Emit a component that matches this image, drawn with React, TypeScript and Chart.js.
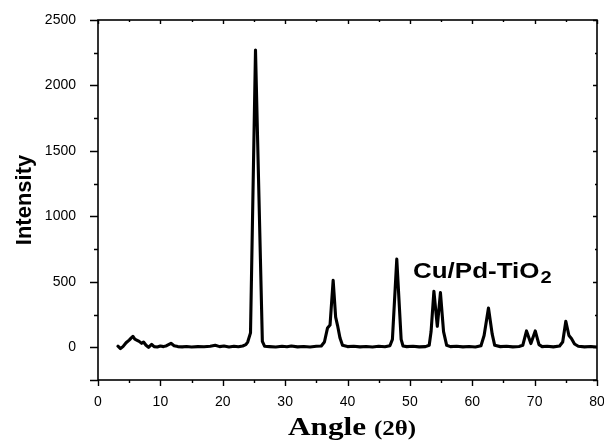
import React, { useEffect, useRef } from 'react';
import { Chart, registerables } from 'chart.js';

Chart.register(...registerables);

// 2θ angles (degrees)
const angles = [
  3.2, 3.6, 4.0, 4.5, 5.0, 5.3, 5.6, 5.9, 6.2, 6.6, 7.0, 7.3, 7.7, 8.1, 8.6, 9.0, 9.5,
  10.0, 10.5, 11.0, 11.7, 12.2, 12.8, 13.5, 14.2, 15.0, 16.0, 17.0, 18.0, 18.8, 19.5,
  20.2, 21.0, 21.8, 22.5, 23.2, 23.7, 24.0, 24.45, 25.25, 26.35, 26.7, 27.5, 28.5,
  29.5, 30.3, 31.0, 32.0, 33.0, 34.0, 35.0, 35.8, 36.3, 36.8, 37.2, 37.7, 38.1, 38.4,
  38.8, 39.2, 40.0, 41.0, 42.0, 43.0, 44.0, 45.0, 46.0, 46.8, 47.2, 47.9, 48.6, 48.9,
  49.5, 50.5, 51.5, 52.5, 53.1, 53.4, 53.85, 54.4, 54.9, 55.4, 55.9, 56.5, 57.5, 58.5,
  59.5, 60.5, 61.4, 61.9, 62.6, 63.2, 63.6, 64.5, 65.5, 66.5, 67.5, 68.1, 68.7, 69.4,
  70.1, 70.7, 71.2, 72.0, 73.0, 74.0, 74.5, 75.0, 75.5, 75.9, 76.4, 77.0, 78.0, 79.0, 80.0,
];

// Intensity (counts)
const intensities = [
  8, -10, 5, 35, 55, 70, 84, 62, 55, 45, 30, 40, 15, 0, 23, 5, 2,
  10, 5, 12, 30, 12, 5, 3, 6, 2, 5, 4, 8, 15, 5,
  10, 2, 8, 4, 10, 20, 40, 110, 2270, 45, 8, 5, 2,
  8, 4, 10, 3, 6, 2, 8, 10, 40, 148, 170, 512, 230, 168,
  70, 15, 5, 8, 3, 6, 2, 8, 4, 12, 60, 673, 60, 10,
  5, 8, 3, 5, 15, 120, 428, 160, 418, 120, 15, 5, 8, 3,
  6, 2, 12, 90, 300, 100, 15, 5, 8, 3, 6, 15, 125, 28,
  125, 20, 5, 8, 3, 10, 40, 199, 90, 67, 25, 8, 3, 6, 2,
];

const xMin = 0;
const xMax = 80;
const xTickValues = [0, 10, 20, 30, 40, 50, 60, 70, 80];
const xMinorStep = 5;
const yMin = -250;
const yMax = 2500;
const yTickValues = [0, 500, 1000, 1500, 2000, 2500];
const yMinorStep = 250;

const xTitleMain = 'Angle';
const xTitleSym = '(2θ)';
const yTitle = 'Intensity';
const sampleLabel = 'Cu/Pd-TiO';
const sampleSub = '2';

export default function App() {
  const ref = useRef<HTMLCanvasElement>(null);

  useEffect(() => {
    if (!ref.current) return;

    const decor = {
      id: 'decor',
      afterDraw(chart: any) {
        const { ctx, chartArea: a, scales } = chart;
        const xs = scales.x;
        const ys = scales.y;
        ctx.save();
        ctx.strokeStyle = '#000';
        ctx.fillStyle = '#000';
        ctx.lineWidth = 1.6;
        ctx.strokeRect(a.left, a.top, a.right - a.left, a.bottom - a.top);

        ctx.lineWidth = 1.4;
        ctx.beginPath();
        for (let v = xMin; v <= xMax; v += xMinorStep) {
          const px = Math.round(xs.getPixelForValue(v)) + 0.5;
          const major = xTickValues.includes(v);
          ctx.moveTo(px, a.bottom);
          ctx.lineTo(px, a.bottom + (major ? 6 : 3));
          ctx.moveTo(px, a.top);
          ctx.lineTo(px, a.top + (major ? 4 : 2));
        }
        for (let v = yMin; v <= yMax; v += yMinorStep) {
          const py = Math.round(ys.getPixelForValue(v)) + 0.5;
          const major = yTickValues.includes(v) || v === yMin;
          ctx.moveTo(a.left, py);
          ctx.lineTo(a.left - (major ? 8 : 4), py);
          ctx.moveTo(a.right, py);
          ctx.lineTo(a.right - (major ? 4 : 2), py);
        }
        ctx.stroke();

        // Y title
        ctx.save();
        ctx.translate(31, (a.top + a.bottom) / 2);
        ctx.rotate(-Math.PI / 2);
        ctx.font = 'bold 22px "Liberation Sans", Arial, sans-serif';
        ctx.textAlign = 'center';
        ctx.textBaseline = 'alphabetic';
        ctx.fillText(yTitle, 0, 0);
        ctx.restore();

        // X title (horizontally stretched like the source)
        ctx.save();
        const sx = 1.25;
        ctx.translate(288, 435);
        ctx.scale(sx, 1);
        ctx.textAlign = 'left';
        ctx.textBaseline = 'alphabetic';
        ctx.font = 'bold 25px "Liberation Serif", "Times New Roman", serif';
        ctx.fillText(xTitleMain, 0, 0);
        const w1 = ctx.measureText(xTitleMain + ' ').width;
        ctx.font = 'bold 20px "Liberation Serif", "Times New Roman", serif';
        ctx.fillText(xTitleSym, w1, 0);
        ctx.restore();

        // Sample annotation
        ctx.save();
        const sx2 = 1.18;
        ctx.translate(413, 278);
        ctx.scale(sx2, 1);
        ctx.textAlign = 'left';
        ctx.textBaseline = 'alphabetic';
        ctx.font = 'bold 22px "Liberation Sans", Arial, sans-serif';
        ctx.fillText(sampleLabel, 0, 0);
        const w2 = ctx.measureText(sampleLabel).width;
        ctx.font = 'bold 17px "Liberation Sans", Arial, sans-serif';
        ctx.fillText(sampleSub, w2 + 1, 5);
        ctx.restore();

        ctx.restore();
      },
    };

    const chart = new Chart(ref.current, {
      type: 'line',
      data: {
        datasets: [
          {
            data: angles.map((a, i) => ({ x: a, y: intensities[i] })),
            borderColor: '#000',
            borderWidth: 3.1,
            pointRadius: 0,
            tension: 0,
            fill: false,
            borderJoinStyle: 'round',
            borderCapStyle: 'round',
          },
        ],
      },
      options: {
        animation: false,
        responsive: false,
        devicePixelRatio: 1,
        layout: { padding: { top: 20, right: 7, left: 0, bottom: 0 } },
        plugins: { legend: { display: false }, tooltip: { enabled: false } },
        scales: {
          x: {
            type: 'linear',
            min: xMin,
            max: xMax,
            grid: { display: false },
            border: { display: false },
            afterBuildTicks: (s: any) => {
              s.ticks = xTickValues.map((v) => ({ value: v }));
            },
            ticks: {
              color: '#000',
              padding: 6,
              maxRotation: 0,
              autoSkip: false,
              callback: (v: any) => String(v),
              font: { family: '"Liberation Sans", Arial, sans-serif', size: 14 },
            },
            afterFit: (s: any) => {
              s.height = 61;
              s.paddingLeft = 0;
              s.paddingRight = 0;
            },
          },
          y: {
            type: 'linear',
            min: yMin,
            max: yMax,
            grid: { display: false },
            border: { display: false },
            afterBuildTicks: (s: any) => {
              s.ticks = yTickValues.map((v) => ({ value: v }));
            },
            ticks: {
              color: '#000',
              padding: 14,
              autoSkip: false,
              callback: (v: any) => String(v),
              font: { family: '"Liberation Sans", Arial, sans-serif', size: 14 },
            },
            afterFit: (s: any) => {
              s.width = 98;
              s.paddingTop = 0;
              s.paddingBottom = 0;
            },
          },
        },
      },
      plugins: [decor],
    } as any);

    return () => chart.destroy();
  }, []);

  return (
    <div style={{ position: 'absolute', left: 0, top: 0, width: 604, height: 441 }}>
      <canvas ref={ref} width={604} height={441} style={{ display: 'block' }} />
    </div>
  );
}
